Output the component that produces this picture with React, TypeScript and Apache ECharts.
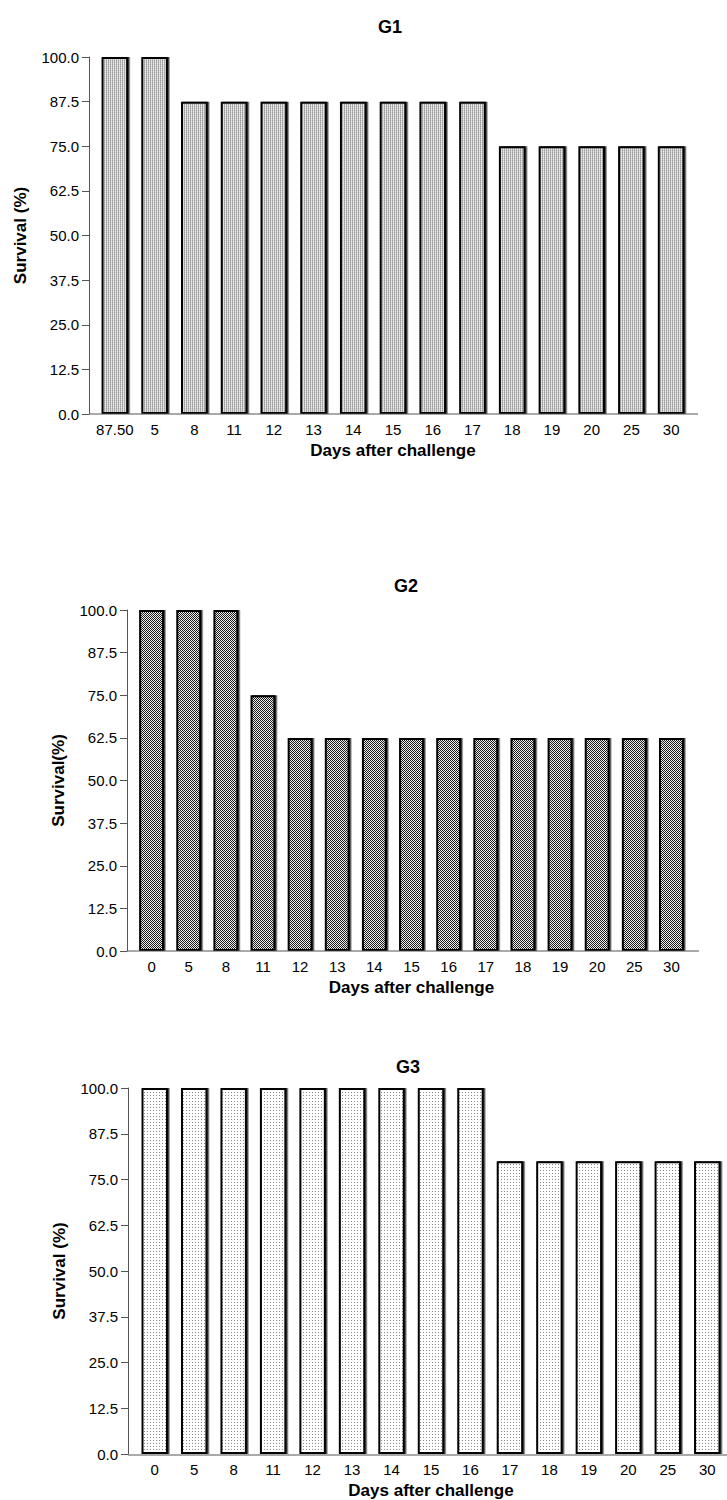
import React, { useEffect, useRef } from "react";
import * as echarts from "echarts";

// Day labels on the x axis (the first G1 label is printed as "87.50")
const daysG1 = ["87.50", "5", "8", "11", "12", "13", "14", "15", "16", "17", "18", "19", "20", "25", "30"];
const daysG2 = ["0", "5", "8", "11", "12", "13", "14", "15", "16", "17", "18", "19", "20", "25", "30"];
const daysG3 = ["0", "5", "8", "11", "12", "13", "14", "15", "16", "17", "18", "19", "20", "25", "30"];

// Survival (%) per day for each group
const survivalG1 = [100, 100, 87.5, 87.5, 87.5, 87.5, 87.5, 87.5, 87.5, 87.5, 75, 75, 75, 75, 75];
const survivalG2 = [100, 100, 100, 75, 62.5, 62.5, 62.5, 62.5, 62.5, 62.5, 62.5, 62.5, 62.5, 62.5, 62.5];
const survivalG3 = [100, 100, 100, 100, 100, 100, 100, 100, 100, 80, 80, 80, 80, 80, 80];

// Y axis scale
const yMin = 0;
const yMax = 100;
const yStep = 12.5;

const FONT = "'Liberation Sans', Arial, Helvetica, sans-serif";

// Small bitmap tiles used as bar fills
function makeTile(rows: string[][]): HTMLCanvasElement {
  const h = rows.length;
  const w = rows[0].length;
  const c = document.createElement("canvas");
  c.width = w;
  c.height = h;
  const ctx = c.getContext("2d")!;
  for (let y = 0; y < h; y++) {
    for (let x = 0; x < w; x++) {
      ctx.fillStyle = rows[y][x];
      ctx.fillRect(x, y, 1, 1);
    }
  }
  return c;
}

type Panel = {
  title: string;
  yName: string;
  cats: string[];
  values: number[];
  grid: { left: number; top: number; width: number; height: number };
  yOffset: number;
  lineEnd: number;
  titleX: number;
  titleTop: number;
  fill: string;
};

const panels: Panel[] = [
  {
    title: "G1",
    yName: "Survival (%)",
    cats: daysG1,
    values: survivalG1,
    grid: { left: 95, top: 57, width: 596, height: 357 },
    yOffset: 6,
    lineEnd: 698,
    titleX: 385,
    titleTop: 13,
    fill: "grain",
  },
  {
    title: "G2",
    yName: "Survival(%)",
    cats: daysG2,
    values: survivalG2,
    grid: { left: 133, top: 610, width: 557, height: 341 },
    yOffset: 6,
    lineEnd: 699,
    titleX: 401,
    titleTop: 572,
    fill: "checker",
  },
  {
    title: "G3",
    yName: "Survival (%)",
    cats: daysG3,
    values: survivalG3,
    grid: { left: 135, top: 1088, width: 600, height: 367 },
    yOffset: 7,
    lineEnd: 727,
    titleX: 403,
    titleTop: 1053,
    fill: "dots",
  },
];

export default function App() {
  const ref = useRef<HTMLDivElement>(null);

  useEffect(() => {
    document.body.style.margin = "0";
    if (!ref.current) return;
    const chart = echarts.init(ref.current, undefined, { renderer: "svg" });

    const G = "#bfbfbf";
    const tiles: Record<string, HTMLCanvasElement> = {
      grain: makeTile([
        ["#9c9c9c", "#dadada"],
        ["#b4b4b4", "#e6e6e6"],
      ]),
      checker: makeTile([
        ["#1e1e1e", "#eeeeee"],
        ["#eeeeee", "#1e1e1e"],
      ]),
      dots: makeTile([
        ["#8a8a8a", "#ffffff", "#ffffff"],
        ["#ffffff", "#ffffff", "#ffffff"],
        ["#ffffff", "#ffffff", "#ffffff"],
      ]),
    };
    void G;

    const option: any = {
      animation: false,
      backgroundColor: "#ffffff",
      textStyle: { fontFamily: FONT, color: "#000" },
      title: panels.map((p) => ({
        text: p.title,
        left: p.titleX,
        top: p.titleTop,
        textAlign: "center",
        textStyle: { fontFamily: FONT, fontWeight: "bold", fontSize: 18, color: "#000" },
      })),
      grid: panels.map((p) => ({ ...p.grid, containLabel: false })),
      xAxis: panels.map((p, i) => ({
        type: "category",
        gridIndex: i,
        data: p.cats,
        axisLine: { show: false },
        axisTick: { show: false },
        axisLabel: { interval: 0, fontSize: 15, color: "#000", margin: 8, fontFamily: FONT },
        name: "Days after challenge",
        nameLocation: "middle",
        nameGap: 28,
        nameTextStyle: { fontWeight: "bold", fontSize: 17, color: "#000", fontFamily: FONT },
        splitLine: { show: false },
      })),
      yAxis: panels.map((p, i) => ({
        type: "value",
        gridIndex: i,
        min: yMin,
        max: yMax,
        interval: yStep,
        offset: p.yOffset,
        axisLine: { show: true, lineStyle: { color: "#555", width: 1 } },
        axisTick: { show: true, length: 7, lineStyle: { color: "#555", width: 1 } },
        axisLabel: {
          fontSize: 15,
          color: "#000",
          margin: 10,
          fontFamily: FONT,
          formatter: (v: number) => v.toFixed(1),
        },
        splitLine: { show: false },
        name: p.yName,
        nameLocation: "middle",
        nameGap: 60,
        nameTextStyle: { fontWeight: "bold", fontSize: 17, color: "#000", fontFamily: FONT },
      })),
      series: panels.map((p, i) => ({
        type: "bar",
        xAxisIndex: i,
        yAxisIndex: i,
        data: p.values,
        barCategoryGap: "33%",
        itemStyle: {
          color: { image: tiles[p.fill], repeat: "repeat" },
          borderColor: "#000",
          borderWidth: 2,
          shadowColor: "rgba(0,0,0,0.75)",
          shadowOffsetX: 1.5,
          shadowOffsetY: 0,
          shadowBlur: 0,
        },
      })),
      // Baseline of each panel, running a little past the outer bars
      graphic: panels.map((p) => ({
        type: "line",
        z: 10,
        shape: {
          x1: p.grid.left - p.yOffset,
          y1: p.grid.top + p.grid.height,
          x2: p.lineEnd,
          y2: p.grid.top + p.grid.height,
        },
        style: { stroke: "#555", lineWidth: 1 },
      })),
    };

    chart.setOption(option);
    return () => chart.dispose();
  }, []);

  return <div ref={ref} style={{ width: 727, height: 1500 }} />;
}
